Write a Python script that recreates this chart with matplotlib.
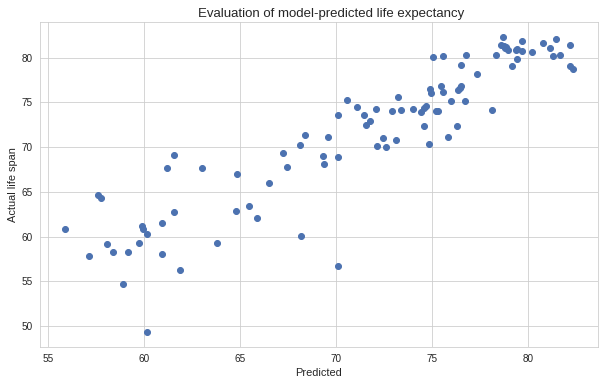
import matplotlib
matplotlib.use('Agg')
import matplotlib.pyplot as plt
import seaborn as sns

# predicted vs actual life expectancy
predicted = [55.92, 57.14, 57.6, 57.76, 58.07, 58.39, 58.91, 59.17, 59.74, 59.9,
             59.97, 60.16, 60.16, 60.94, 60.94, 61.56, 61.88, 63.82, 64.79, 61.2,
             61.56, 63.02, 64.84, 65.47, 65.89, 66.51, 67.28, 67.45, 68.13, 68.41,
             68.18, 69.32, 69.38, 69.58, 70.1, 70.1, 70.1, 70.57, 71.09, 71.46,
             71.56, 71.77, 72.08, 72.14, 72.45, 72.6, 72.92, 73.13, 73.23, 73.39,
             74.01, 74.43, 74.58, 74.69, 74.58, 74.84, 74.9, 74.95, 75.05, 75.21,
             75.31, 75.47, 75.57, 75.57, 75.83, 75.99, 76.3, 76.35, 76.46, 76.51,
             76.51, 76.72, 76.77, 77.34, 78.13, 78.33, 78.7, 78.59, 78.75, 78.85,
             78.96, 78.8, 79.38, 79.43, 79.69, 79.43, 79.17, 79.69, 80.21, 80.78,
             81.15, 81.46, 81.3, 81.67, 82.19, 82.19, 82.34]
actual = [60.8, 57.8, 64.6, 64.26, 59.13, 58.24, 54.67, 58.24, 59.24, 61.17,
          60.8, 60.24, 49.3, 61.47, 58.05, 62.7, 56.26, 59.24, 62.81, 67.72,
          69.17, 67.72, 66.94, 63.37, 62.06, 65.94, 69.29, 67.83, 70.29, 71.41,
          60.02, 69.06, 68.06, 71.18, 68.84, 73.64, 56.67, 75.31, 74.53, 73.64,
          72.52, 72.97, 74.31, 70.18, 71.07, 69.96, 74.08, 70.85, 75.65, 74.2,
          74.31, 73.97, 74.42, 74.64, 72.41, 70.4, 76.54, 76.09, 80.11, 74.08,
          74.08, 76.8, 76.2, 80.22, 71.18, 75.2, 72.41, 76.43, 76.65, 76.8,
          79.22, 75.2, 80.33, 78.21, 74.2, 80.33, 82.34, 81.45, 81.34, 81.23,
          80.89, 81.1, 80.89, 81.0, 80.78, 79.89, 79.11, 81.9, 80.67, 81.67,
          81.12, 82.12, 80.22, 80.33, 81.45, 79.11, 78.77]

sns.set_style('whitegrid')
plt.rcParams['font.family'] = ['Liberation Sans', 'DejaVu Sans']

fig = plt.figure(figsize=(604 / 72, 384 / 72), dpi=72)
ax = fig.add_axes([40 / 604, 1 - 347 / 384, 558 / 604, 325 / 384])
ax.scatter(predicted, actual, color='#4C72B0')
# title glyphs in the reference run wider than the centred layout, so place it by hand
fig.text(198 / 604, 1 - 16.5 / 384, 'Evaluation of model-predicted life expectancy',
         ha='left', va='baseline', fontsize=13.2, color='.15')
ax.set_xlabel('Predicted', fontsize=11)
ax.set_ylabel('Actual life span', fontsize=11)
ax.tick_params(labelsize=10)

fig.savefig('out.png', dpi=72)
